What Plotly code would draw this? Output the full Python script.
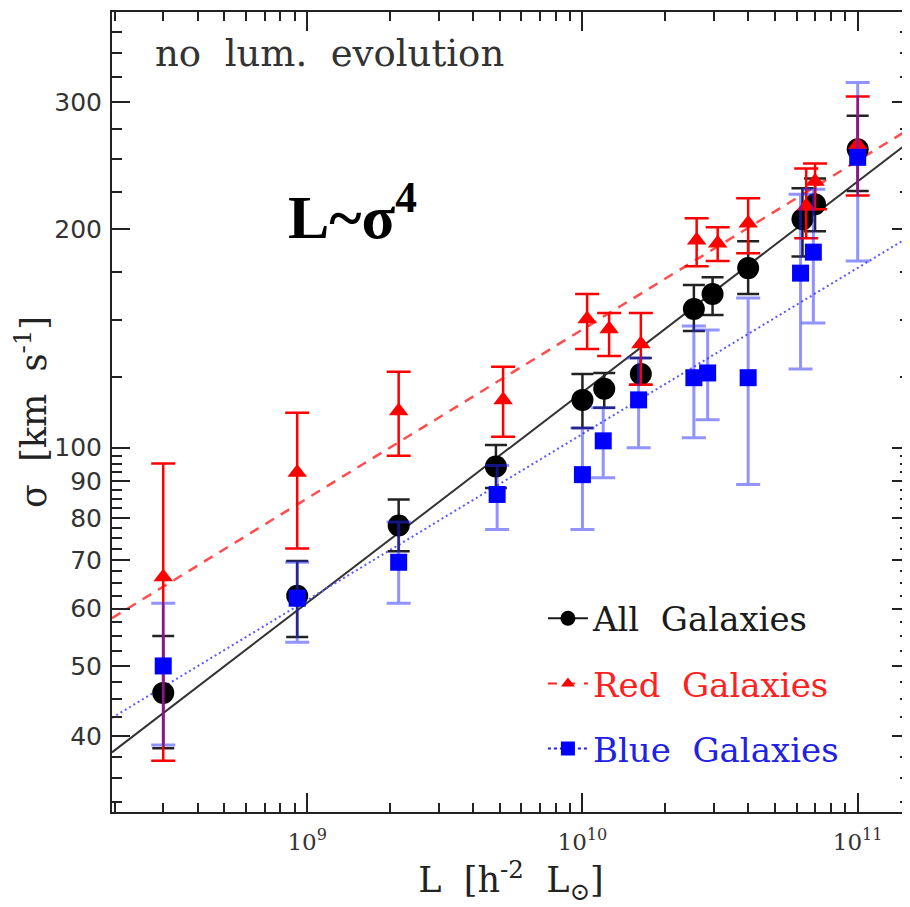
import plotly.graph_objects as go

# ---------------- data ----------------
L_all = [3.0e8, 9.2e8, 2.15e9, 4.85e9, 1.0e10, 1.2e10, 1.63e10, 2.54e10, 2.97e10, 4.0e10, 6.3e10, 7.0e10, 1.0e11]
sig_all = [45.9, 62.5, 78.1, 94.2, 116.4, 120.6, 126.4, 155.4, 162.9, 176.9, 206.6, 216.7, 258.0]
hi_all = [55.0, 69.8, 84.8, 100.9, 126.4, 126.8, 133.0, 167.6, 171.9, 192.7, 228.0, 235.2, 287.0]
lo_all = [38.5, 54.8, 72.0, 88.0, 106.5, 113.5, 122.1, 144.9, 152.4, 162.9, 183.6, 198.9, 226.0]

L_red = [3.0e8, 9.2e8, 2.15e9, 5.15e9, 1.04e10, 1.25e10, 1.63e10, 2.6e10, 3.1e10, 4.0e10, 6.5e10, 7.0e10, 1.0e11]
sig_red = [66.3, 92.4, 112.4, 116.4, 150.5, 145.8, 139.0, 193.3, 191.5, 204.0, 215.3, 233.0, 261.8]
hi_red = [95.1, 111.7, 127.3, 129.3, 162.9, 153.4, 153.4, 207.3, 201.4, 220.8, 242.7, 246.7, 305.1]
lo_red = [37.0, 72.6, 97.5, 103.5, 136.8, 133.8, 122.1, 178.0, 180.9, 185.5, 194.5, 213.3, 222.8]

L_blue = [3.0e8, 9.2e8, 2.15e9, 4.9e9, 1.0e10, 1.19e10, 1.6e10, 2.54e10, 2.85e10, 4.0e10, 6.2e10, 6.9e10, 1.0e11]
sig_blue = [50.0, 62.0, 69.5, 86.2, 91.8, 102.2, 116.4, 124.9, 126.8, 124.9, 174.1, 186.1, 251.5]
hi_blue = [61.0, 69.5, 79.0, 94.5, 106.5, 113.5, 133.0, 147.2, 145.3, 160.9, 223.6, 227.2, 319.0]
lo_blue = [38.9, 53.9, 61.0, 77.1, 77.1, 90.9, 100.0, 103.2, 109.3, 89.0, 128.4, 148.6, 180.9]

# power-law fit lines (end points at the plot edges)
fit_L = [1.954e8, 1.549e11]
fit_all = [38.0, 264.6]
fit_red = [58.2, 275.6]
fit_blue = [42.4, 195.7]

x_major = [1e9, 1e10, 1e11]
x_major_text = ["10<sup>9</sup>", "10<sup>10</sup>", "10<sup>11</sup>"]
y_major = [40, 50, 60, 70, 80, 90, 100, 200, 300]
y_major_text = ["40", "50", "60", "70", "80", "90", "100", "200", "300"]

x_minor = [m * 10 ** e for e in (8, 9, 10) for m in range(2, 10)]
y_minor = [32.5, 35, 37.5, 42.5, 45, 47.5, 52.5, 55, 57.5, 62.5, 65, 67.5, 72.5, 75, 77.5,
           82.5, 85, 87.5, 92.5, 95, 97.5, 125, 150, 175, 225, 250, 275, 325, 350, 375]

RED = "#ff0000"
BLUE = "#0000ff"
SERIF = "DejaVu Serif"


def err(v, hi, lo):
    return [h - s for h, s in zip(hi, v)], [s - l for s, l in zip(v, lo)]


fig = go.Figure()

# fit lines
fig.add_trace(go.Scatter(x=fit_L, y=fit_all, mode="lines", showlegend=False,
                         line=dict(color="#333333", width=2)))
fig.add_trace(go.Scatter(x=fit_L, y=fit_red, mode="lines", showlegend=False,
                         line=dict(color="#ff4d4d", width=2.5, dash="10px,8px")))
fig.add_trace(go.Scatter(x=fit_L, y=fit_blue, mode="lines", showlegend=False,
                         line=dict(color="#5a5aff", width=2, dash="2px,3px")))

# data with error bars
up, dn = err(sig_all, hi_all, lo_all)
fig.add_trace(go.Scatter(x=L_all, y=sig_all, mode="markers", showlegend=False,
                         marker=dict(symbol="circle", size=22, color="black"),
                         error_y=dict(type="data", symmetric=False, array=up, arrayminus=dn,
                                      color="#222222", thickness=2.5, width=11)))
up, dn = err(sig_red, hi_red, lo_red)
fig.add_trace(go.Scatter(x=L_red, y=sig_red, mode="markers", showlegend=False,
                         marker=dict(symbol="triangle-up", size=17, color=RED),
                         error_y=dict(type="data", symmetric=False, array=up, arrayminus=dn,
                                      color=RED, thickness=2.5, width=12)))
up, dn = err(sig_blue, hi_blue, lo_blue)
fig.add_trace(go.Scatter(x=L_blue, y=sig_blue, mode="markers", showlegend=False,
                         marker=dict(symbol="square", size=17, color=BLUE),
                         error_y=dict(type="data", symmetric=False, array=up, arrayminus=dn,
                                      color="rgba(40,40,255,0.5)", thickness=3, width=12)))

# legend entries
fig.add_trace(go.Scatter(x=[None], y=[None], mode="lines+markers", legendgroup="a",
                         name='<span style="color:#1a1a1a">All  Galaxies</span>',
                         line=dict(color="#1a1a1a", width=2),
                         marker=dict(symbol="circle", size=15, color="black")))
fig.add_trace(go.Scatter(x=[None], y=[None], mode="lines+markers", legendgroup="r",
                         name='<span style="color:#ff2020">Red  Galaxies</span>',
                         line=dict(color="#ff2020", width=2, dash="dash"),
                         marker=dict(symbol="triangle-up", size=12, color=RED)))
fig.add_trace(go.Scatter(x=[None], y=[None], mode="lines+markers", legendgroup="b",
                         name='<span style="color:#2020e6">Blue  Galaxies</span>',
                         line=dict(color="#2020e6", width=2, dash="dot"),
                         marker=dict(symbol="square", size=14, color=BLUE)))

axis_common = dict(showline=True, linecolor="#222222", linewidth=2, mirror="allticks",
                   ticks="inside", tickcolor="#222222", tickwidth=2, showgrid=False,
                   zeroline=False)

fig.update_xaxes(type="log", range=[8.291, 11.19], tickmode="array", tickvals=x_major,
                 ticktext=x_major_text, ticklen=19, ticklabelstandoff=8,
                 tickfont=dict(family=SERIF, size=23, color="#333333"),
                 minor=dict(tickmode="array", tickvals=x_minor, ticks="inside", ticklen=9,
                            tickwidth=2, tickcolor="#222222"),
                 title=dict(text="L  [h<sup>-2</sup>  L<sub>⊙</sub>]", standoff=13,
                            font=dict(family=SERIF, size=35, color="#222222")),
                 **axis_common)
fig.update_yaxes(type="log", range=[1.4975, 2.601], tickmode="array", tickvals=y_major,
                 ticktext=y_major_text, ticklen=18, ticklabelstandoff=3,
                 tickfont=dict(family="DejaVu Sans", size=25, color="#333333"),
                 minor=dict(tickmode="array", tickvals=y_minor, ticks="inside", ticklen=10,
                            tickwidth=2, tickcolor="#222222"),
                 title=dict(text="σ  [km  s<sup>-1</sup>]", standoff=8,
                            font=dict(family=SERIF, size=35, color="#222222")),
                 **axis_common)

fig.add_annotation(xref="paper", yref="paper", x=0.051, y=0.948, xanchor="left",
                   yanchor="middle", showarrow=False, text="no  lum.  evolution",
                   font=dict(family=SERIF, size=37, color="#333333"))
fig.add_annotation(xref="paper", yref="paper", x=0.218, y=0.75, xanchor="left",
                   yanchor="middle", showarrow=False, text="<b>L~σ<sup>4</sup></b>",
                   font=dict(family="Liberation Serif", size=62, color="black"))

fig.update_layout(
    width=910, height=907,
    margin=dict(l=104, r=8, t=2, b=103),
    paper_bgcolor="white", plot_bgcolor="white",
    legend=dict(x=0.54, y=0.278, xanchor="left", yanchor="top", bgcolor="rgba(0,0,0,0)",
                font=dict(family=SERIF, size=34, color="#222222"), tracegroupgap=18,
                itemwidth=40),
)

fig.write_html("out.html")
